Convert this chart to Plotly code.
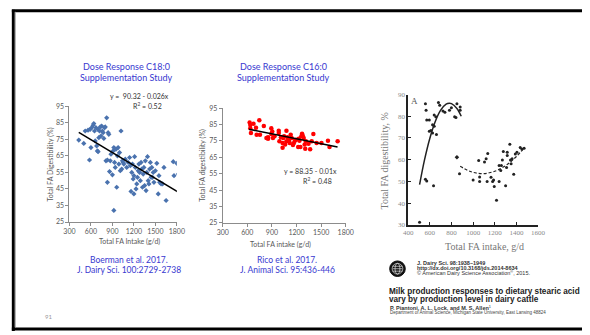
import plotly.graph_objects as go

W, H = 590, 335

# ---- Boerman et al. 2017 (C18:0 dose response) ----
boer_x = [430, 500, 520, 560, 580, 590, 600, 610, 630, 640, 650, 660, 670, 680, 690, 700, 700, 710, 720, 730,
          740, 750, 760, 770, 780, 790, 800, 810, 820, 830, 830, 840, 850, 860, 870, 880, 900, 910, 920, 920,
          930, 940, 950, 960, 970, 980, 990, 1000, 1010, 1020, 1030, 1040, 1050, 1060, 1080, 1100, 1120, 1140,
          1150, 1160, 1170, 1180, 1190, 1200, 1200, 1210, 1220, 1230, 1240, 1250, 1260, 1270, 1280, 1290, 1300,
          1310, 1320, 1330, 1340, 1350, 1360, 1370, 1380, 1390, 1400, 1410, 1420, 1430, 1440, 1450, 1460, 1470,
          1480, 1500, 1520, 1540, 1550, 1560, 1580, 1600, 1620, 1650, 1750, 1760, 1800, 1820]
boer_y = [74.5, 72.5, 80, 80.5, 62.5, 81, 70, 82, 83.5, 84.5, 80, 74, 82, 71, 68, 67.5, 81, 76, 80, 82.5,
          77, 83, 80, 79, 75.5, 82, 82.5, 62, 88, 62.5, 49, 79, 78, 55.5, 62, 66, 53.5, 68, 32, 70,
          61, 58, 69, 46, 65, 70, 60, 67, 56, 80, 57, 62, 61, 60, 63, 58, 61, 64,
          59, 43.5, 55, 60, 51, 42, 53, 64.5, 58, 45, 48, 52, 56, 60, 55, 50, 61,
          57, 46, 54, 58, 47, 62, 44, 55, 64.5, 50, 48, 57, 61, 52, 58, 52, 55,
          49, 56, 60.5, 42, 53, 49, 48, 48, 58, 38, 61.5, 53, 60.5, 54]
boer_fit = (90.32, -0.026)          # intercept, slope
boer_fit_x = [430, 1820]

# ---- Rico et al. 2017 (C16:0 dose response) ----
rico_x = [628, 636, 675, 636, 644, 706, 714, 746, 754, 801, 833, 853, 892, 904, 892, 912, 931, 983, 991, 1010,
          1030, 1038, 1049, 1077, 1077, 1089, 1109, 1117, 1140, 1156, 1180, 1196, 1220, 1236, 1247, 1259, 1267,
          1275, 1287, 1306, 1314, 1346, 1366, 1385, 1405, 1445, 1504, 1583, 1602, 1701, 983, 853, 1168, 1227,
          1299, 1030, 1061, 1129]
rico_y = [86.3, 84.7, 85.5, 82.7, 79.8, 83.1, 78.8, 87.7, 78.8, 84.1, 76.8, 76.4, 82.7, 80.8, 79.2, 76.8, 77.8,
          81.2, 74.8, 77.2, 70.9, 76.8, 77.8, 81.2, 74.8, 77.2, 75.8, 73.8, 76.8, 72.5, 75.2, 75.8, 71.3, 75.2,
          71.3, 77.8, 79.4, 78.4, 76.8, 70.3, 74.8, 73.3, 69.9, 74.8, 79.2, 73.8, 73.8, 75.2, 71.3, 74.8, 79.8,
          77.2, 73.8, 76.4, 72.9, 73.8, 72.9, 78.8]
rico_fit = (88.35, -0.01)
rico_fit_x = [620, 1700]

# ---- Piantoni et al. 2015 ----
pian_x = [505, 559, 565, 571, 559, 571, 634, 595, 595, 610, 625, 625, 640, 655, 640, 661, 679, 691, 721, 739,
          781, 799, 829, 841, 850, 880, 880, 874, 1000, 1060, 1060, 1051, 1105, 1120, 1135, 1129, 1165, 1180,
          1195, 1189, 1216, 1240, 1240, 1255, 1270, 1279, 1261, 1300, 1309, 1315, 1315, 1339, 1345, 1351, 1360,
          1375, 1390, 1405, 1435, 1450, 1471]
pian_y = [31.2, 85.8, 82.8, 78.3, 51, 50.2, 48, 78.3, 73.1, 73.4, 76.1, 72.3, 75.4, 79.8, 80.6, 71.6, 86.3,
          85.1, 82.4, 81.8, 82.8, 83.9, 79.8, 79.4, 85.8, 84.3, 82.8, 53.6, 50.7, 50, 52.1, 59.6, 58.9, 60.4,
          62.9, 50, 51.9, 50, 47.7, 50.7, 41.4, 50, 57.4, 55.1, 59.9, 63.8, 57.4, 48, 56.4, 63.4, 61.9, 67.1,
          59.9, 58.1, 60.4, 53.3, 62.6, 63.4, 65.6, 64.9, 65.3]
pian_diamond = ([850], [61.1])
# Fitted curves (low and high intake groups)
curve_lo_x = [505, 550, 600, 650, 700, 750, 780, 800, 850, 890]
curve_lo_y = [48.5, 59.8, 69.9, 77.6, 82.8, 85.6, 86.0, 85.8, 83.6, 80.0]
curve_hi_x = [880, 950, 1000, 1050, 1100, 1150, 1200, 1250, 1300, 1350, 1400, 1470]
curve_hi_y = [57.0, 55.1, 54.2, 53.7, 53.6, 54.0, 54.7, 55.8, 57.3, 59.2, 61.5, 65.3]

BLUE_TXT = "#3838d0"
GRAY_TXT = "#595959"
SANS = "Lato, Carlito, 'Open Sans', sans-serif"
SERIF = "'Liberation Serif', 'DejaVu Serif', serif"
ARIAL = "'Liberation Sans', Arial, sans-serif"


def px(x):
    return x / W


def py(y):
    return 1 - y / H


fig = go.Figure()

# chart 1
fig.add_trace(go.Scatter(x=boer_x, y=boer_y, mode="markers", xaxis="x", yaxis="y",
                         marker=dict(symbol="diamond", size=4, color="#4a72ae"), showlegend=False))
fig.add_trace(go.Scatter(x=boer_fit_x, y=[boer_fit[0] + boer_fit[1] * v for v in boer_fit_x],
                         mode="lines", xaxis="x", yaxis="y", line=dict(color="black", width=1.5),
                         showlegend=False))
# chart 2
fig.add_trace(go.Scatter(x=rico_x, y=rico_y, mode="markers", xaxis="x2", yaxis="y2",
                         marker=dict(symbol="circle", size=4.5, color="#ff0000"), showlegend=False))
fig.add_trace(go.Scatter(x=rico_fit_x, y=[rico_fit[0] + rico_fit[1] * v for v in rico_fit_x],
                         mode="lines", xaxis="x2", yaxis="y2", line=dict(color="black", width=1.5),
                         showlegend=False))
# chart 3
fig.add_trace(go.Scatter(x=pian_x, y=pian_y, mode="markers", xaxis="x3", yaxis="y3",
                         marker=dict(symbol="circle", size=3, color="#222222"), showlegend=False))
fig.add_trace(go.Scatter(x=pian_diamond[0], y=pian_diamond[1], mode="markers", xaxis="x3", yaxis="y3",
                         marker=dict(symbol="diamond", size=3.5, color="#222222"), showlegend=False))
fig.add_trace(go.Scatter(x=curve_lo_x, y=curve_lo_y, mode="lines", xaxis="x3", yaxis="y3",
                         line=dict(color="#222222", width=1.5, shape="spline"), showlegend=False))
fig.add_trace(go.Scatter(x=curve_hi_x, y=curve_hi_y, mode="lines", xaxis="x3", yaxis="y3",
                         line=dict(color="#222222", width=1.2, dash="3px,2px", shape="spline"),
                         showlegend=False))

excel_axis = dict(showgrid=False, zeroline=False, showline=True, linecolor="#8c8c8c", linewidth=1,
                  ticks="outside", ticklen=3, tickcolor="#8c8c8c",
                  tickfont=dict(family=SANS, size=7, color=GRAY_TXT))
serif_axis = dict(showgrid=False, zeroline=False, showline=True, linecolor="#222222", linewidth=1.5,
                  ticks="inside", ticklen=3, tickcolor="#222222",
                  tickfont=dict(family=SERIF, size=7, color="#8a8a8a"))

fig.update_layout(
    width=W, height=H, margin=dict(l=0, r=0, t=0, b=0),
    paper_bgcolor="white", plot_bgcolor="white",
    xaxis=dict(excel_axis, domain=[px(65), px(175)], range=[300, 1800], tickvals=list(range(300, 1801, 300)),
               anchor="y"),
    yaxis=dict(excel_axis, domain=[py(223), py(104)], range=[25, 95], tickvals=list(range(25, 96, 10)),
               anchor="x"),
    xaxis2=dict(excel_axis, domain=[px(222), px(348)], range=[300, 1800], tickvals=list(range(300, 1801, 300)),
                anchor="y2"),
    yaxis2=dict(excel_axis, domain=[py(224), py(106)], range=[25, 95], tickvals=list(range(25, 96, 10)),
                anchor="x2"),
    xaxis3=dict(serif_axis, domain=[px(412), px(545)], range=[400, 1600], tickvals=list(range(400, 1601, 200)),
                anchor="y3"),
    yaxis3=dict(serif_axis, domain=[py(226), py(92)], range=[30, 90], tickvals=list(range(30, 91, 10)),
                anchor="x3"),
)

ann = []


def text(x, y, s, size=7, color=GRAY_TXT, family=SANS, angle=0, xanchor="center"):
    ann.append(dict(x=px(x), y=py(y), xref="paper", yref="paper", text=s, showarrow=False,
                    font=dict(size=size, color=color, family=family), textangle=angle,
                    xanchor=xanchor, yanchor="middle"))


# chart 1 texts
text(123, 63, "Dose Response C18:0", size=9, color=BLUE_TXT)
text(123, 74, "Supplementation Study", size=9, color=BLUE_TXT)
text(137, 93, f"y =  {boer_fit[0]:.2f} - {abs(boer_fit[1]):.3f}x", size=7, color="#333333")
text(145, 103, "R<sup>2</sup> = 0.52", size=7, color="#333333")
text(46, 164, "Total FA Digestibility (%)", size=7, angle=-90)
text(127, 243, "Total FA Intake (g/d)", size=7)
text(126, 262, "Boerman et al. 2017.", size=8.5, color=BLUE_TXT)
text(126, 272, "J. Dairy Sci. 100:2729-2738", size=8.5, color=BLUE_TXT)

# chart 2 texts
text(284, 63, "Dose Response C16:0", size=9, color=BLUE_TXT)
text(284, 74, "Supplementation Study", size=9, color=BLUE_TXT)
text(312, 171, f"y = {rico_fit[0]:.2f} - {abs(rico_fit[1]):.2f}x", size=7, color="#333333")
text(319, 180, "R<sup>2</sup> = 0.48", size=7, color="#333333")
text(201, 165, "Total FA digestibility (%)", size=7, angle=-90)
text(281, 246, "Total FA intake (g/d)", size=7)
text(288, 262, "Rico et al. 2017.", size=8.5, color=BLUE_TXT)
text(288, 272, "J. Animal Sci. 95:436-446", size=8.5, color=BLUE_TXT)

# chart 3 texts
text(418, 99, "A", size=9, color="#555555", family=SERIF)
text(388, 160, "Total FA digestibility, %", size=10, color="#777777", family=SERIF, angle=-90)
text(490, 248, "Total FA intake, g/d", size=10, color="#777777", family=SERIF)

# journal reference block
text(419, 265, "<b>J. Dairy Sci. 98:1938–1949</b>", size=5.5, color="#333333", family=ARIAL, xanchor="left")
text(419, 270, "<b>http://dx.doi.org/10.3168/jds.2014-8634</b>", size=5.5, color="#333333",
     family=ARIAL, xanchor="left")
text(419, 275, "© American Dairy Science Association<sup>®</sup>, 2015.", size=5.5, color="#333333",
     family=ARIAL, xanchor="left")
text(390, 294, "<b>Milk production responses to dietary stearic acid</b>", size=8.2, color="#222222",
     family=ARIAL, xanchor="left")
text(390, 302.5, "<b>vary by production level in dairy cattle</b>", size=8.2, color="#222222",
     family=ARIAL, xanchor="left")
text(391, 311, "<b>P. Piantoni, A. L. Lock, and M. S. Allen</b><sup>1</sup>", size=5.5, color="#333333",
     family=ARIAL, xanchor="left")
text(391, 316, "Department of Animal Science, Michigan State University, East Lansing 48824", size=4.5,
     color="#444444", family=ARIAL, xanchor="left")

# slide number
text(44, 320, "91", size=6, color="#999999")

fig.update_layout(annotations=ann)

shapes = []
# slide frame
shapes.append(dict(type="line", xref="paper", yref="paper", x0=px(7.5), x1=px(7.5), y0=py(5), y1=py(335),
                   line=dict(color="black", width=3)))
shapes.append(dict(type="line", xref="paper", yref="paper", x0=px(6), x1=1, y0=py(6), y1=py(6),
                   line=dict(color="black", width=3)))
shapes.append(dict(type="line", xref="paper", yref="paper", x0=px(6), x1=1, y0=py(333), y1=py(333),
                   line=dict(color="black", width=3)))
shapes.append(dict(type="line", xref="paper", yref="paper", x0=px(9.5), x1=px(9.5), y0=py(7), y1=py(331),
                   line=dict(color="#a0a0a0", width=1)))
# ADSA globe emblem
cx, cy, r = 401, 271, 8
shapes.append(dict(type="circle", xref="paper", yref="paper", x0=px(cx - r), x1=px(cx + r),
                   y0=py(cy + r), y1=py(cy - r), fillcolor="#111111", line=dict(color="#111111", width=1)))
shapes.append(dict(type="circle", xref="paper", yref="paper", x0=px(cx - 5.5), x1=px(cx + 5.5),
                   y0=py(cy + 5.5), y1=py(cy - 5.5), line=dict(color="white", width=0.6)))
shapes.append(dict(type="circle", xref="paper", yref="paper", x0=px(cx - 2.5), x1=px(cx + 2.5),
                   y0=py(cy + 5.5), y1=py(cy - 5.5), line=dict(color="white", width=0.6)))
for dy in (-2.5, 0, 2.5):
    shapes.append(dict(type="line", xref="paper", yref="paper", x0=px(cx - 5), x1=px(cx + 5),
                       y0=py(cy + dy), y1=py(cy + dy), line=dict(color="white", width=0.6)))
fig.update_layout(shapes=shapes)

fig.write_html("out.html")
